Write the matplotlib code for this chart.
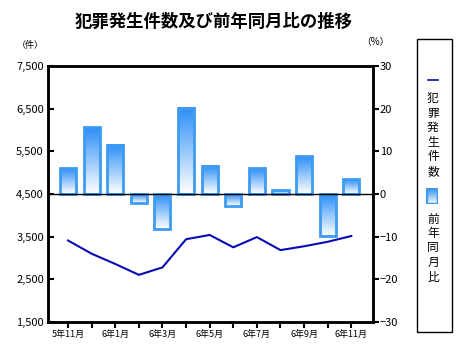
import numpy as np
import matplotlib.pyplot as plt
from matplotlib.colors import LinearSegmentedColormap
from matplotlib.patches import Rectangle
from matplotlib.lines import Line2D

plt.rcParams['font.family'] = ['Noto Sans CJK JP', 'DejaVu Sans']

# data
months = ['5年11月', '6年12月', '6年1月', '6年2月', '6年3月', '6年4月', '6年5月',
          '6年6月', '6年7月', '6年8月', '6年9月', '6年10月', '6年11月']
tick_labels = ['5年11月', '', '6年1月', '', '6年3月', '', '6年5月',
               '', '6年7月', '', '6年9月', '', '6年11月']
counts = [3410, 3100, 2860, 2605, 2780, 3440, 3540, 3250, 3490, 3185, 3275, 3380, 3515]
yoy = [6.0, 15.6, 11.5, -2.1, -8.2, 20.2, 6.6, -2.7, 6.0, 0.9, 8.8, -9.8, 3.4]

edge_col = '#3d9bf2'
line_col = '#0a0ab4'
cmap = LinearSegmentedColormap.from_list('grad', ['#ffffff', '#2d8ff7'])
grad = np.linspace(0, 1, 64).reshape(-1, 1)

fig = plt.figure(figsize=(4.7, 3.63), dpi=100)
ax1 = fig.add_axes([48/470, 41/363, 325/470, 256/363])
ax2 = ax1.twinx()

x = np.arange(len(months))
w = 0.68

# bars (percent axis)
for xi, v in zip(x, yoy):
    y0, y1 = (0, v) if v >= 0 else (v, 0)
    ax2.imshow(grad, extent=[xi - w/2, xi + w/2, y0, y1], origin='lower',
               aspect='auto', cmap=cmap, zorder=2)
    ax2.add_patch(Rectangle((xi - w/2, y0), w, y1 - y0, fill=False,
                            edgecolor=edge_col, linewidth=2, zorder=3))
ax2.axhline(0, color='black', linewidth=1, zorder=4)

# line (count axis)
ax1.plot(x, counts, color=line_col, linewidth=1.5, zorder=5)

ax1.set_xlim(-0.85, 12.92)
ax1.set_ylim(1500, 7500)
ax2.set_ylim(-30, 30)
ax1.set_yticks(range(1500, 7501, 1000))
ax1.set_yticklabels([f'{v:,}' for v in range(1500, 7501, 1000)])
ax2.set_yticks(range(-30, 31, 10))
ax1.set_xticks(x)
ax1.set_xticklabels(tick_labels)

ax1.tick_params(axis='y', direction='in', length=4, width=1.5, labelsize=8, pad=3)
ax2.tick_params(axis='y', direction='out', length=4, width=1.5, labelsize=8, pad=1)
ax1.tick_params(axis='x', direction='out', length=4, width=1.5, labelsize=6.5, pad=2)
for ax in (ax1, ax2):
    for s in ax.spines.values():
        s.set_linewidth(1.8)
ax1.set_zorder(ax2.get_zorder() + 1)
ax1.patch.set_visible(False)

fig.text(214/470, 1 - 22/363, '犯罪発生件数及び前年同月比の推移', ha='center', va='center',
         fontsize=12.5, fontweight='bold')
fig.text(30/470, 1 - 45/363, '（件）', ha='center', va='center', fontsize=6.5)
fig.text(375/470, 1 - 42/363, '（%）', ha='center', va='center', fontsize=7)

# hand-made vertical legend
fig.patches.append(Rectangle((417/470, 1 - 332/363), 35/470, 293/363, fill=False,
                             edgecolor='black', linewidth=1, transform=fig.transFigure))
fig.lines.append(Line2D([428/470, 438/470], [1 - 80/363, 1 - 80/363], color=line_col,
                        linewidth=1.2, transform=fig.transFigure))
fig.text(433/470, 1 - 135/363, '\n'.join('犯罪発生件数'), ha='center', va='center',
         fontsize=8.5, linespacing=1.15)
lax = fig.add_axes([426/470, 1 - 204/363, 12/470, 16/363])
lax.imshow(grad, extent=[0, 1, 0, 1], origin='lower', aspect='auto', cmap=cmap)
lax.add_patch(Rectangle((0, 0), 1, 1, fill=False, edgecolor=edge_col, linewidth=2.5))
lax.set_xlim(0, 1)
lax.set_ylim(0, 1)
lax.axis('off')
fig.text(433/470, 1 - 248/363, '\n'.join('前年同月比'), ha='center', va='center',
         fontsize=8.5, linespacing=1.15)

plt.savefig('out.png', dpi=100)
